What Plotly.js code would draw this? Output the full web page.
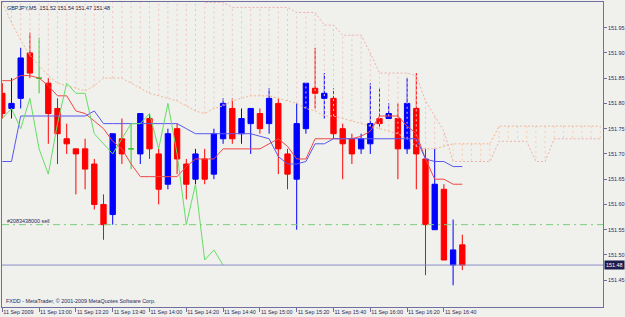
<!DOCTYPE html>
<html><head><meta charset="utf-8">
<script src="https://cdn.plot.ly/plotly-3.0.1.min.js"></script>
<style>html,body{margin:0;padding:0;background:#f0f0ec;}#chart{width:625px;height:317px;}</style>
</head><body><div id="chart"></div>
<script>
// M5 bar times (11 Sep 2009)
const times = ["12:40","12:45","12:50","12:55","13:00","13:05","13:10","13:15","13:20","13:25","13:30","13:35",
"13:40","13:45","13:50","13:55","14:00","14:05","14:10","14:15","14:20","14:25","14:30","14:35",
"14:40","14:45","14:50","14:55","15:00","15:05","15:10","15:15","15:20","15:25","15:30","15:35",
"15:40","15:45","15:50","15:55","16:00","16:05","16:10","16:15","16:20","16:25","16:30","16:35",
"16:40","16:45","16:50"];
const futureTimes = ["16:55","17:00","17:05","17:10","17:15","17:20","17:25","17:30","17:35","17:40","17:45","17:50","17:55","18:00","18:05"];

const opens  = [151.82,151.79,151.81,151.90,151.85,151.84,151.79,151.73,151.71,151.71,151.68,151.60,151.58,151.73,151.71,151.70,151.77,151.70,151.64,151.75,151.68,151.65,151.69,151.66,151.73,151.79,151.74,151.76,151.78,151.76,151.80,151.70,151.65,151.75,151.83,151.81,151.81,151.75,151.73,151.71,151.72,151.77,151.77,151.77,151.71,151.79,151.69,151.55,151.63,151.48,151.52];
const highs  = [151.84,151.85,151.91,151.94,151.93,151.85,151.81,151.76,151.71,151.73,151.69,151.62,151.74,151.77,151.76,151.78,151.78,151.71,151.75,151.76,151.69,151.71,151.71,151.75,151.81,151.81,151.79,151.79,151.79,151.83,151.81,151.71,151.80,151.84,151.91,151.86,151.83,151.76,151.74,151.74,151.84,151.83,151.80,151.80,151.85,151.86,151.71,151.71,151.64,151.57,151.54];
const lows   = [151.77,151.77,151.79,151.85,151.82,151.72,151.68,151.70,151.62,151.63,151.59,151.53,151.56,151.68,151.67,151.68,151.69,151.60,151.63,151.66,151.61,151.64,151.64,151.65,151.72,151.72,151.72,151.70,151.74,151.74,151.66,151.63,151.55,151.74,151.79,151.77,151.73,151.65,151.68,151.70,151.70,151.75,151.77,151.65,151.70,151.63,151.46,151.55,151.49,151.44,151.47];
const closes = [151.78,151.80,151.89,151.86,151.85,151.78,151.74,151.72,151.70,151.67,151.60,151.56,151.74,151.70,151.71,151.78,151.71,151.63,151.74,151.69,151.64,151.70,151.65,151.74,151.80,151.73,151.77,151.79,151.75,151.81,151.71,151.66,151.76,151.84,151.82,151.82,151.74,151.72,151.70,151.73,151.76,151.76,151.78,151.71,151.80,151.70,151.56,151.64,151.49,151.51,151.48];

// Ichimoku lines
const tenkan = [151.845,151.845,151.855,151.855,151.85,151.835,151.815,151.815,151.785,151.78,
151.765,151.75,151.725,151.71,151.68,151.655,151.655,151.655,151.655,151.655,
151.675,151.69,151.69,151.69,151.71,151.71,151.71,151.71,151.71,151.72,
151.73,151.715,151.69,151.69,151.73,151.73,151.73,151.73,151.73,151.735,
151.745,151.775,151.775,151.775,151.755,151.74,151.69,151.65,151.65,151.64,151.64];
const kijun = [151.685,151.685,151.775,151.775,151.775,151.775,151.775,151.775,151.775,151.775,
151.785,151.76,151.76,151.76,151.76,151.76,151.76,151.76,151.76,151.76,
151.75,151.74,151.74,151.74,151.74,151.74,151.74,151.74,151.735,151.73,
151.695,151.68,151.68,151.685,151.72,151.72,151.73,151.73,151.73,151.73,
151.73,151.73,151.73,151.73,151.73,151.73,151.69,151.685,151.685,151.675,151.675];
const chikou = [151.77,151.79,151.75,151.81,151.71,151.66,151.76,151.84,151.82,151.82,151.74,151.72,151.70,151.73,151.76,151.76,151.78,151.71,151.80,151.70,151.56,151.64,151.49,151.51,151.48];
const spanA = [152.00,151.96,151.925,151.895,151.875,151.855,151.84,151.835,151.83,151.825,
151.835,151.85,151.85,151.85,151.84,151.83,151.82,151.815,151.81,151.805,
151.795,151.785,151.78,151.79,151.795,151.805,151.81,151.815,151.815,151.815,
151.81,151.805,151.80,151.79,151.785,151.775,151.775,151.77,151.765,151.76,
151.755,151.75,151.745,151.74,151.73,151.715,151.71,151.71,151.715,151.72,
151.72,151.72,151.72,151.72,151.755,151.755,151.755,151.755,151.755,151.755,
151.755,151.755,151.755,151.755,151.755,151.755];
const spanB = [152.03,152.03,152.03,152.03,152.03,152.03,152.03,152.03,152.03,152.03,
152.03,152.03,152.03,152.03,152.03,152.03,152.03,152.03,152.03,152.03,
152.03,152.03,152.00,152.00,152.00,151.99,151.99,151.99,151.99,151.99,
151.99,151.99,151.98,151.98,151.98,151.955,151.955,151.935,151.935,151.935,
151.90,151.86,151.86,151.86,151.86,151.855,151.805,151.775,151.745,151.685,
151.685,151.685,151.685,151.685,151.725,151.725,151.725,151.725,151.685,151.685,
151.73,151.73,151.73,151.73,151.73,151.73];

const tickTimes  = ["12:40","13:00","13:20","13:40","14:00","14:20","14:40","15:00","15:20","15:40","16:00","16:20","16:40"];
const tickLabels = ["11 Sep 2009","11 Sep 13:00","11 Sep 13:20","11 Sep 13:40","11 Sep 14:00","11 Sep 14:20","11 Sep 14:40","11 Sep 15:00","11 Sep 15:20","11 Sep 15:40","11 Sep 16:00","11 Sep 16:20","11 Sep 16:40"];
const priceTicks = [151.45,151.50,151.55,151.60,151.65,151.70,151.75,151.80,151.85,151.90,151.95];
const bidPrice = 151.48;
const orderPrice = 151.56;
const symbolTitle = "GBPJPY,M5  151.52 151.54 151.47 151.48";
const orderLabel = "#2083438000 sell";
const copyright = "FXDD - MetaTrader, © 2001-2009 MetaQuotes Software Corp.";

const allTimes = times.concat(futureTimes);
const xi = t => allTimes.indexOf(t);
const xb = times.map(xi);
const xc = allTimes.map(xi);

const FONT = 'Liberation Sans, Arial, sans-serif';
const TXT = '#2a2a5a';
const FRAME = '#7070a0';

// dojis (open == close) are drawn in the line colour
const normIdx = [], dojiIdx = [];
xb.forEach((x,i)=>{ (opens[i]===closes[i] ? dojiIdx : normIdx).push(i); });
const pick = (arr, idx) => idx.map(i=>arr[i]);

const candles = {
  type:'candlestick', x:pick(xb,normIdx), open:pick(opens,normIdx), high:pick(highs,normIdx),
  low:pick(lows,normIdx), close:pick(closes,normIdx), hoverinfo:'skip', whiskerwidth:0,
  increasing:{line:{color:'#0000ff',width:1}, fillcolor:'#0000ff'},
  decreasing:{line:{color:'#ff0000',width:1}, fillcolor:'#ff0000'}
};
const dojis = {
  type:'candlestick', x:pick(xb,dojiIdx), open:pick(opens,dojiIdx), high:pick(highs,dojiIdx),
  low:pick(lows,dojiIdx), close:pick(closes,dojiIdx), hoverinfo:'skip', whiskerwidth:0,
  increasing:{line:{color:'#33cc33',width:1}, fillcolor:'#33cc33'},
  decreasing:{line:{color:'#33cc33',width:1}, fillcolor:'#33cc33'}
};

function hatch(aboveA, color){
  const xs=[], ys=[];
  xc.forEach((x,i)=>{
    if((spanA[i] > spanB[i]) === aboveA){ xs.push(x,x,null); ys.push(spanA[i],spanB[i],null); }
  });
  return {type:'scatter', mode:'lines', x:xs, y:ys, hoverinfo:'skip', connectgaps:false,
          line:{color:color, width:1, dash:'2px,3px'}};
}
const hatchA = hatch(true, '#f6cdb2');
const hatchB = hatch(false, '#f3c3bf');
const lineA = {type:'scatter', mode:'lines', x:xc, y:spanA, hoverinfo:'skip', line:{color:'#f2b894', width:1, dash:'2px,2px'}};
const lineB = {type:'scatter', mode:'lines', x:xc, y:spanB, hoverinfo:'skip', line:{color:'#efb0ae', width:1, dash:'2px,2px'}};
const tenkanTr = {type:'scatter', mode:'lines', x:xb, y:tenkan, hoverinfo:'skip', line:{color:'#f04848', width:1}};
const kijunTr  = {type:'scatter', mode:'lines', x:xb, y:kijun, hoverinfo:'skip', line:{color:'#5858f0', width:1}};
const chikouTr = {type:'scatter', mode:'lines', x:xb.slice(0, chikou.length), y:chikou, hoverinfo:'skip', line:{color:'#66dd66', width:1}};

const layout = {
  width:625, height:317,
  margin:{l:2, r:22, t:2, b:10, pad:0},
  paper_bgcolor:'#f0f0ec', plot_bgcolor:'#f0f0ec',
  showlegend:false,
  boxgap:0.42, boxgroupgap:0,
  font:{family:FONT, size:5.4, color:TXT},
  xaxis:{type:'linear', range:[-0.0326, 65.293], showgrid:false, zeroline:false,
    showline:true, mirror:true, linecolor:FRAME, linewidth:1,
    tickvals:tickTimes.map(xi), ticktext:tickLabels, ticks:'outside', ticklen:4, tickcolor:FRAME,
    tickangle:0, ticklabelposition:'outside right', ticklabeloverflow:'allow',
    tickfont:{family:FONT, size:5.4, color:TXT},
    rangeslider:{visible:false}, fixedrange:true},
  yaxis:{side:'right', range:[151.397, 152.0007], showgrid:false, zeroline:false,
    showline:true, mirror:true, linecolor:FRAME, linewidth:1,
    tickvals:priceTicks, ticktext:priceTicks.map(v=>v.toFixed(2)), ticks:'outside', ticklen:3, tickcolor:FRAME,
    tickfont:{family:FONT, size:5.4, color:TXT}, fixedrange:true},
  shapes:[
    {type:'line', xref:'paper', x0:0, x1:1, yref:'y', y0:orderPrice, y1:orderPrice,
     line:{color:'#7ccc7c', width:1, dash:'7px,4px,2px,4px'}},
    {type:'line', xref:'paper', x0:0, x1:1, yref:'y', y0:bidPrice, y1:bidPrice,
     line:{color:'#8c8cc8', width:1}}
  ],
  annotations:[
    {xref:'paper', yref:'paper', x:0, y:1, xanchor:'left', yanchor:'top', xshift:3, yshift:-1,
     text:symbolTitle, showarrow:false, font:{family:FONT, size:5.4, color:'#202048'}},
    {xref:'paper', yref:'paper', x:0, y:0, xanchor:'left', yanchor:'bottom', xshift:2, yshift:1,
     text:copyright, showarrow:false, font:{family:FONT, size:5.4, color:TXT}},
    {xref:'paper', yref:'y', x:0, y:orderPrice, xanchor:'left', yanchor:'bottom', xshift:3, yshift:-1,
     text:orderLabel, showarrow:false, font:{family:FONT, size:5.4, color:TXT}},
    {xref:'paper', yref:'y', x:1, y:bidPrice, xanchor:'left', yanchor:'middle', xshift:1,
     text:bidPrice.toFixed(2), showarrow:false, bgcolor:'#1c1c50', borderpad:1,
     font:{family:FONT, size:5.4, color:'#ffffff'}}
  ]
};

Plotly.newPlot('chart', [candles, dojis, hatchB, hatchA, lineA, lineB, tenkanTr, kijunTr, chikouTr], layout,
  {staticPlot:true, displayModeBar:false});
</script></body></html>
